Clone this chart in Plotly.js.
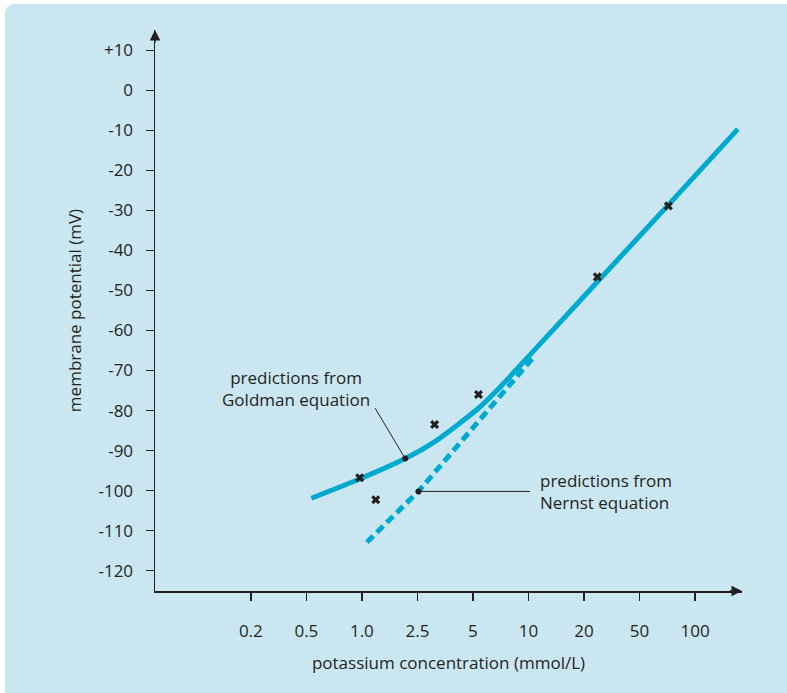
<!DOCTYPE html>
<html>
<head>
<meta charset="utf-8">
<script src="https://cdn.plot.ly/plotly-3.0.1.min.js"></script>
<style>
  html, body { margin: 0; padding: 0; background: #ffffff; }
  #wrap { position: absolute; left: 5px; top: 4px; width: 782px; height: 689px;
          background: #cae7f1; border-top-left-radius: 9px; overflow: hidden; }
  #chart { width: 782px; height: 689px; }
</style>
</head>
<body>
<div id="wrap"><div id="chart"></div></div>
<script>
// x positions are in "tick slots" (the axis is evenly spaced per label)
const xTickLabels = ['0.2', '0.5', '1.0', '2.5', '5', '10', '20', '50', '100'];
const xTickSlots  = [0, 1, 2, 3, 4, 5, 6, 7, 8];
const yTickVals   = [10, 0, -10, -20, -30, -40, -50, -60, -70, -80, -90, -100, -110, -120];
const yTickLabels = ['+10', '0', '-10', '-20', '-30', '-40', '-50', '-60', '-70', '-80', '-90', '-100', '-110', '-120'];

const goldmanX = [1.09, 1.96, 2.78, 3.32, 4.11, 4.54, 5.14, 6.23, 7.52, 8.77];
const goldmanY = [-101.9, -97.1, -92.0, -87.7, -79.3, -73.4, -64.4, -48.0, -28.6, -9.7];

const nernstX = [2.09, 3.03, 5.12];
const nernstY = [-112.9, -100.0, -66.2];

const measuredX = [1.96, 2.25, 3.31, 4.10, 6.24, 7.52];
const measuredY = [-96.8, -102.3, -83.5, -76.0, -46.6, -28.9];

const ink = '#231f20';
const blue = '#00a9ce';
const fontFam = '"Open Sans", "Noto Sans", sans-serif';

const traces = [
  { x: nernstX, y: nernstY, mode: 'lines', type: 'scatter',
    line: { color: blue, width: 5, dash: '9px,5px' }, hoverinfo: 'skip' },
  { x: goldmanX, y: goldmanY, mode: 'lines', type: 'scatter',
    line: { color: blue, width: 5, shape: 'spline', smoothing: 0.6 }, hoverinfo: 'skip' },
  { x: measuredX, y: measuredY, mode: 'markers', type: 'scatter',
    marker: { symbol: 'x', size: 8, color: ink, line: { width: 0 } }, hoverinfo: 'skip' }
];

const layout = {
  width: 782, height: 689,
  paper_bgcolor: 'rgba(0,0,0,0)', plot_bgcolor: 'rgba(0,0,0,0)',
  margin: { l: 150, r: 45, t: 26, b: 102.4 },
  showlegend: false,
  font: { family: fontFam, size: 17, color: ink },
  xaxis: {
    range: [-1.726, 8.846], showgrid: false, zeroline: false,
    showline: true, linecolor: ink, linewidth: 1.5,
    tickvals: xTickSlots, ticktext: xTickLabels,
    ticks: 'outside', ticklen: 8, tickwidth: 1.5, tickcolor: ink,
    ticklabelstandoff: 16,
    tickfont: { family: fontFam, size: 17, color: ink },
    title: { text: 'potassium concentration (mmol/L)', standoff: 16,
             font: { family: fontFam, size: 17, color: ink } }
  },
  yaxis: {
    range: [-125.08, 15.08], showgrid: false, zeroline: false,
    showline: true, linecolor: ink, linewidth: 1.5,
    tickvals: yTickVals, ticktext: yTickLabels,
    ticks: 'outside', ticklen: 8, tickwidth: 1.5, tickcolor: ink,
    ticklabelstandoff: 9,
    tickfont: { family: fontFam, size: 17, color: ink },
    title: { text: 'membrane potential (mV)', standoff: 12,
             font: { family: fontFam, size: 17, color: ink } }
  },
  annotations: [
    // axis arrowheads
    { xref: 'paper', yref: 'paper', x: 1, y: 0, ax: -14, ay: 0, text: '',
      showarrow: true, arrowhead: 2, arrowsize: 1.4, arrowwidth: 1.5, arrowcolor: ink },
    { xref: 'paper', yref: 'paper', x: 0, y: 1, ax: 0, ay: 14, text: '',
      showarrow: true, arrowhead: 2, arrowsize: 1.4, arrowwidth: 1.5, arrowcolor: ink },
    // labels
    { xref: 'x', yref: 'y', x: 0.82, y: -74.4, text: 'predictions from<br>Goldman equation',
      showarrow: false, xanchor: 'center', yanchor: 'middle', align: 'center',
      font: { family: fontFam, size: 17, color: ink } },
    { xref: 'x', yref: 'y', x: 2.78, y: -92.0, text: '', showarrow: true,
      ax: -31, ay: -52, arrowhead: 6, arrowsize: 1.5, arrowwidth: 1, arrowcolor: ink },
    { xref: 'x', yref: 'y', x: 5.18, y: -100.2, text: 'predictions from<br>Nernst equation',
      showarrow: false, xanchor: 'left', yanchor: 'middle', align: 'left',
      font: { family: fontFam, size: 17, color: ink } },
    { xref: 'x', yref: 'y', x: 3.02, y: -100.2, text: '', showarrow: true,
      ax: 113, ay: 0, arrowhead: 6, arrowsize: 1.5, arrowwidth: 1, arrowcolor: ink }
  ]
};

Plotly.newPlot('chart', traces, layout, { displayModeBar: false, staticPlot: true });
</script>
</body>
</html>
